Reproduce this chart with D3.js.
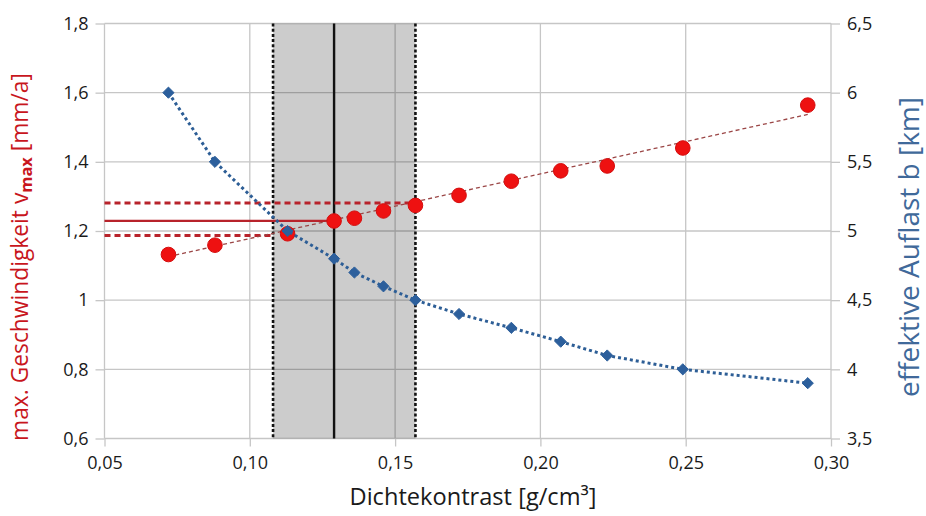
<!DOCTYPE html>
<html><head><meta charset="utf-8">
<script src="https://cdn.jsdelivr.net/npm/d3@7"></script>
<style>html,body{margin:0;padding:0;background:#fff;} svg{display:block;}</style>
</head><body>
<svg id="c" width="926" height="516"></svg>
<script>
// ---- data ----
const dichte = [0.072,0.088,0.113,0.129,0.136,0.146,0.157,0.172,0.190,0.207,0.223,0.249,0.292];
const vmax   = [1.132,1.159,1.192,1.229,1.237,1.258,1.274,1.303,1.344,1.374,1.388,1.440,1.564];
const auflast= [6.0,5.5,5.0,4.8,4.7,4.6,4.5,4.4,4.3,4.2,4.1,4.0,3.9];
const trendX = [0.072,0.292];
const trendY = [1.126,1.537];
const band   = [0.108,0.157];
const bandCenter = 0.129;
const hLevels = [1.281,1.229,1.187];        // upper dashed, solid, lower dashed
const hEnds   = [0.157,0.129,0.108];
const xTicks = [0.05,0.10,0.15,0.20,0.25,0.30];
const xTickLabels = ["0,05","0,10","0,15","0,20","0,25","0,30"];
const yTicks = [0.6,0.8,1.0,1.2,1.4,1.6,1.8];
const yTickLabels = ["0,6","0,8","1","1,2","1,4","1,6","1,8"];
const y2Ticks = [3.5,4.0,4.5,5.0,5.5,6.0,6.5];
const y2TickLabels = ["3,5","4","4,5","5","5,5","6","6,5"];

const svg = d3.select("#c");
const L=104.5, R=831, T=23.5, B=438.5;
const x = d3.scaleLinear().domain([0.05,0.30]).range([L,R]);
const y = d3.scaleLinear().domain([0.6,1.8]).range([B,T]);
const y2 = d3.scaleLinear().domain([3.5,6.5]).range([B,T]);
const FONT = "'Open Sans', sans-serif";
const gridC = "#c6c6c6";

// gridlines
svg.append("g").selectAll("line").data(yTicks).join("line")
  .attr("x1",L).attr("x2",R).attr("y1",d=>y(d)).attr("y2",d=>y(d))
  .attr("stroke",gridC).attr("stroke-width",1.3);
svg.append("g").selectAll("line").data(xTicks).join("line")
  .attr("x1",d=>x(d)).attr("x2",d=>x(d)).attr("y1",T).attr("y2",B)
  .attr("stroke",gridC).attr("stroke-width",1.3);

// axes
const fmtFrom = (ticks, labels) => d => labels[ticks.findIndex(t=>Math.abs(t-d)<1e-9)];
const ax = (g)=>{ g.select(".domain").remove(); g.selectAll(".tick line").attr("stroke",gridC).attr("stroke-width",1.3);
  g.selectAll("text").attr("font-family",FONT).attr("font-size",18).attr("fill","#1a1a1a"); };
svg.append("g").attr("transform",`translate(${L},0)`)
  .call(d3.axisLeft(y).tickValues(yTicks).tickFormat(fmtFrom(yTicks,yTickLabels)).tickSize(9).tickPadding(7)).call(ax);
svg.append("g").attr("transform",`translate(${R},0)`)
  .call(d3.axisRight(y2).tickValues(y2Ticks).tickFormat(fmtFrom(y2Ticks,y2TickLabels)).tickSize(9).tickPadding(7)).call(ax);
svg.append("g").attr("transform",`translate(0,${B})`)
  .call(d3.axisBottom(x).tickValues(xTicks).tickFormat(fmtFrom(xTicks,xTickLabels)).tickSize(8).tickPadding(10)).call(ax);

// band
svg.append("rect").attr("x",x(band[0])).attr("width",x(band[1])-x(band[0]))
  .attr("y",T).attr("height",B-T).attr("fill","#000").attr("fill-opacity",0.2);
svg.append("g").selectAll("line").data(band).join("line")
  .attr("x1",d=>x(d)).attr("x2",d=>x(d)).attr("y1",T).attr("y2",B)
  .attr("stroke","#111").attr("stroke-width",2.6).attr("stroke-dasharray","3,2.2");
svg.append("line").attr("x1",x(bandCenter)).attr("x2",x(bandCenter)).attr("y1",T).attr("y2",B)
  .attr("stroke","#111").attr("stroke-width",2.4);

// horizontal red lines
svg.append("g").selectAll("line").data(hLevels).join("line")
  .attr("x1",L).attr("x2",(d,i)=>x(hEnds[i])).attr("y1",d=>y(d)).attr("y2",d=>y(d))
  .attr("stroke","#b8232b").attr("stroke-width",(d,i)=>i===1?2.2:2.8)
  .attr("stroke-dasharray",(d,i)=>i===1?null:"6,4");

// trend line
svg.append("line").attr("x1",x(trendX[0])).attr("x2",x(trendX[1]))
  .attr("y1",y(trendY[0])).attr("y2",y(trendY[1]))
  .attr("stroke","#9b4646").attr("stroke-width",1.3).attr("stroke-dasharray","4,3");

// red dots
svg.append("g").selectAll("circle").data(dichte).join("circle")
  .attr("cx",d=>x(d)).attr("cy",(d,i)=>y(vmax[i])).attr("r",7.3)
  .attr("fill","#ee1111").attr("stroke","#d40d0d").attr("stroke-width",1);

// blue dotted line + diamonds
const line2 = d3.line().x(d=>x(d[0])).y(d=>y2(d[1]));
svg.append("path").datum(dichte.map((d,i)=>[d,auflast[i]])).attr("d",line2)
  .attr("fill","none").attr("stroke","#2d5e96").attr("stroke-width",3).attr("stroke-dasharray","3,3");
const sym = d3.symbol().type(d3.symbolDiamond2).size(80);
svg.append("g").selectAll("path").data(dichte).join("path")
  .attr("transform",(d,i)=>`translate(${x(d)},${y2(auflast[i])})`)
  .attr("d",sym).attr("fill","#2c5f9c").attr("stroke","#2c5f9c").attr("stroke-width",1);

// axis titles, fitted to measured widths
function fit(sel, target){ const n=sel.node(); const w=n.getComputedTextLength(); const fs=+sel.attr("font-size"); sel.attr("font-size", fs*target/w); }
const xt = svg.append("text").attr("x",473).attr("y",505).attr("text-anchor","middle")
  .attr("font-family",FONT).attr("font-size",20).attr("fill","#1a1a1a").text("Dichtekontrast [g/cm³]");
fit(xt,247);
const lt = svg.append("text").attr("transform","translate(28,257) rotate(-90)").attr("text-anchor","middle")
  .attr("font-family",FONT).attr("font-size",20).attr("fill","#c8161d");
lt.append("tspan").text("max. Geschwindigkeit v");
lt.append("tspan").attr("font-size","0.72em").attr("font-weight","bold").attr("dy","0.25em").text("max");
lt.append("tspan").attr("dy","-0.18em").text(" [mm/a]");
fit(lt,368);
const rt = svg.append("text").attr("transform","translate(919,247) rotate(-90)").attr("text-anchor","middle")
  .attr("font-family",FONT).attr("font-size",20).attr("fill","#40699a").text("effektive Auflast b [km]");
fit(rt,300);
</script>
</body></html>
